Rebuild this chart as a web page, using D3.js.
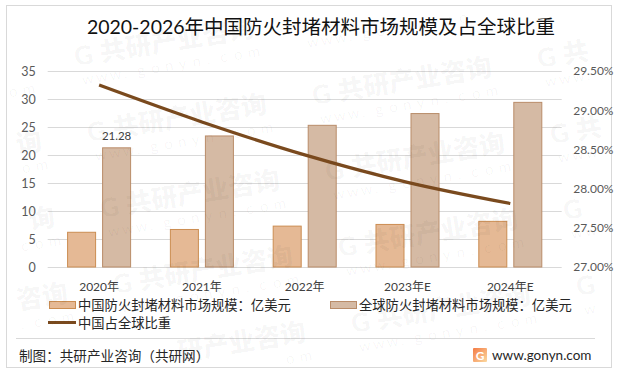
<!DOCTYPE html>
<html>
<head>
<meta charset="utf-8">
<script src="https://cdn.jsdelivr.net/npm/d3@7"></script>
<style>
html, body { margin: 0; padding: 0; background: #fff; }
svg { display: block; }
text { font-family: Lato, "Noto Sans CJK SC", sans-serif; }
.domain { display: none; }
</style>
</head>
<body>
<div class="chart"></div>
<script>
// chart data
var categories = ["2020年", "2021年", "2022年", "2023年E", "2024年E"];
var chinaSize = [6.2, 6.7, 7.3, 7.6, 8.15];
var globalSize = [21.28, 23.4, 25.3, 27.4, 29.4];
var chinaShare = [29.32, 28.85, 28.43, 28.08, 27.81];
var leftTicks = [0, 5, 10, 15, 20, 25, 30, 35];
var rightTicks = [27, 27.5, 28, 28.5, 29, 29.5];
var seriesNames = ["中国防火封堵材料市场规模：亿美元", "全球防火封堵材料市场规模：亿美元", "中国占全球比重"];
var titleText = "2020-2026年中国防火封堵材料市场规模及占全球比重";
var sourceText = "制图：共研产业咨询（共研网）";
var siteText = "www.gonyn.com";
var markText = "共研产业咨询";

// x,y,width,height setup
var width = 619;
var height = 377;
var plot = { left: 47.7, right: 561.7, top: 71, bottom: 267 };

var chinaFill = "#E5B995", chinaStroke = "#CB8D52";
var globalFill = "#D5BAA4", globalStroke = "#B98C69";
var lineColor = "#7A4A1E";
var gridColor = "#D9D9D9";
var labelColor = "#595959";

const svg = d3.select(".chart")
              .append("svg")
              .attr("width", width)
              .attr("height", height);

svg.append("rect")
   .attr("x", 6.5).attr("y", 5.5)
   .attr("width", 605).attr("height", 362)
   .attr("fill", "#fff")
   .attr("stroke", "#D9D9D9");

const xScale = d3.scaleBand()
                 .domain(categories)
                 .range([plot.left, plot.right])
                 .paddingInner(0.387)
                 .paddingOuter(0.1935);
const xInner = d3.scaleBand()
                 .domain([0, 1])
                 .range([0, xScale.bandwidth()])
                 .paddingInner(0.2);
const yScale = d3.scaleLinear()
                 .domain([0, 35])
                 .range([plot.bottom, plot.top]);
const yShare = d3.scaleLinear()
                 .domain([27, 29.5])
                 .range([plot.bottom, plot.top]);

// axes
const yAxis = d3.axisLeft(yScale)
                .tickValues(leftTicks)
                .tickSize(-(plot.right - plot.left))
                .tickPadding(12);
const yAxisRight = d3.axisRight(yShare)
                     .tickValues(rightTicks)
                     .tickSize(0)
                     .tickPadding(11.5)
                     .tickFormat(d => d3.format(".2f")(d) + "%");
const xAxis = d3.axisBottom(xScale)
                .tickSize(0)
                .tickPadding(15);

svg.append("g")
   .attr("id", "y-axis")
   .attr("transform", "translate(" + plot.left + ",0)")
   .call(yAxis)
   .call(g => g.selectAll("line").attr("stroke", gridColor))
   .call(g => g.selectAll("text").attr("fill", labelColor).style("font-size", "12.5px"));

svg.append("g")
   .attr("id", "y-axis-right")
   .attr("transform", "translate(" + plot.right + ",0)")
   .call(yAxisRight)
   .call(g => g.selectAll("text").attr("fill", labelColor).style("font-size", "12px"));

svg.append("g")
   .attr("id", "x-axis")
   .attr("transform", "translate(0," + plot.bottom + ")")
   .call(xAxis)
   .call(g => g.selectAll("text").attr("fill", "#404040").style("font-size", "12px"));

// bars
[[chinaSize, chinaFill, chinaStroke], [globalSize, globalFill, globalStroke]].forEach((s, k) => {
  svg.append("g")
     .selectAll("rect")
     .data(s[0])
     .enter()
     .append("rect")
     .attr("x", (d, i) => xScale(categories[i]) + xInner(k))
     .attr("y", d => yScale(d))
     .attr("width", xInner.bandwidth())
     .attr("height", d => plot.bottom - yScale(d))
     .attr("fill", s[1])
     .attr("stroke", s[2]);
});

// data label, only the first global bar has one
svg.append("text")
   .attr("x", xScale(categories[0]) + xInner(1) + xInner.bandwidth() / 2)
   .attr("y", yScale(globalSize[0]) - 8)
   .attr("text-anchor", "middle")
   .attr("fill", "#404040")
   .style("font-size", "11.5px")
   .text(globalSize[0]);

// share line
const line = d3.line()
               .x((d, i) => xScale(categories[i]) + xScale.bandwidth() / 2)
               .y(d => yShare(d))
               .curve(d3.curveCatmullRom);
svg.append("path")
   .datum(chinaShare)
   .attr("d", line)
   .attr("fill", "none")
   .attr("stroke", lineColor)
   .attr("stroke-width", 3.2);

// title
svg.append("text")
   .attr("x", 321).attr("y", 34)
   .attr("text-anchor", "middle")
   .attr("fill", "#111")
   .style("font-size", "19.5px")
   .text(titleText);

// legend
svg.append("rect").attr("x", 49.5).attr("y", 301.5).attr("width", 26).attr("height", 7)
   .attr("fill", chinaFill).attr("stroke", chinaStroke);
svg.append("text").attr("x", 78).attr("y", 310).attr("fill", "#262626")
   .style("font-size", "13.3px").text(seriesNames[0]);
svg.append("rect").attr("x", 330.5).attr("y", 301.5).attr("width", 26).attr("height", 7)
   .attr("fill", globalFill).attr("stroke", globalStroke);
svg.append("text").attr("x", 359).attr("y", 310).attr("fill", "#262626")
   .style("font-size", "13.3px").text(seriesNames[1]);
svg.append("line").attr("x1", 48).attr("x2", 76).attr("y1", 322.5).attr("y2", 322.5)
   .attr("stroke", lineColor).attr("stroke-width", 3);
svg.append("text").attr("x", 78).attr("y", 328).attr("fill", "#262626")
   .style("font-size", "13.3px").text(seriesNames[2]);

// footer
svg.append("line").attr("x1", 16).attr("x2", 595).attr("y1", 338.5).attr("y2", 338.5)
   .attr("stroke", "#D9D9D9");
svg.append("text").attr("x", 19).attr("y", 361).attr("fill", "#262626")
   .style("font-size", "13.6px").text(sourceText);

const grad = svg.append("defs").append("linearGradient")
                .attr("id", "logoGrad").attr("x1", 0).attr("y1", 0).attr("x2", 1).attr("y2", 1);
grad.append("stop").attr("offset", "0%").attr("stop-color", "#F47B45");
grad.append("stop").attr("offset", "100%").attr("stop-color", "#FBD9A0");
svg.append("rect").attr("x", 473).attr("y", 348).attr("width", 14).attr("height", 14)
   .attr("rx", 1).attr("fill", "url(#logoGrad)");
svg.append("text").attr("x", 480).attr("y", 359.5).attr("text-anchor", "middle")
   .attr("fill", "#fff").style("font-size", "12px").style("font-weight", 700).text("G");
svg.append("text").attr("x", 492).attr("y", 360).attr("fill", "#262626")
   .style("font-size", "13.5px").text(siteText);

// watermark tiles on top of everything, one glyph at a time so the
// ones running past the frame just lose those glyphs
const marks = svg.append("g").attr("pointer-events", "none");
var angle = -9.3 * Math.PI / 180;
function markGlyph(mx, my, dx, dy, ch, size, weight) {
  var px = mx + dx * Math.cos(angle) - dy * Math.sin(angle);
  var py = my + dx * Math.sin(angle) + dy * Math.cos(angle);
  if (px < 9 || px + size > 609 || py - size < 8 || py > 365) return;
  marks.append("text")
       .attr("transform", "translate(" + px + "," + py + ") rotate(-9.3)")
       .attr("fill", "#000")
       .attr("fill-opacity", 0.04)
       .style("font-size", size + "px")
       .style("font-weight", weight)
       .text(ch);
}
for (var r = -2; r <= 5; r++) {
  for (var c = -2; c <= 4; c++) {
    var mx = 75 + 225 * c + 13 * r;
    var my = 62 - 37 * c + 76 * r;
    markGlyph(mx, my, 0, 4, "G", 26, 900);
    Array.from(markText).forEach((ch, i) => markGlyph(mx, my, 26 + i * 26, 4, ch, 26, 900));
    Array.from(siteText).forEach((ch, i) => markGlyph(mx, my, 4 + i * 14, 24, ch, 15, 400));
  }
}
</script>
</body>
</html>
